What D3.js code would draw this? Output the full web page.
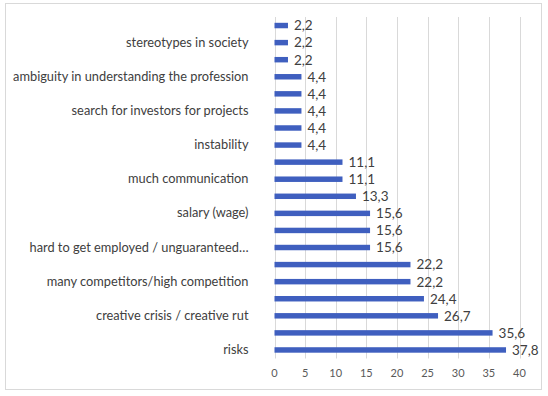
<!DOCTYPE html>
<html>
<head>
<meta charset="utf-8">
<script src="https://cdn.jsdelivr.net/npm/d3@7"></script>
<style>
  html, body { margin: 0; padding: 0; background: #fff; }
  svg { display: block; font-family: Lato, "Open Sans", sans-serif; }
</style>
</head>
<body>
<div id="chart"></div>
<script>
// categories, top to bottom (Excel only shows every other label)
const categories = [
  "", "stereotypes in society",
  "", "ambiguity in understanding the profession",
  "", "search for investors for projects",
  "", "instability",
  "", "much communication",
  "", "salary (wage)",
  "", "hard to get employed / unguaranteed\u2026",
  "", "many competitors/high competition",
  "", "creative crisis / creative rut",
  "", "risks"
];
const values = [2.2, 2.2, 2.2, 4.4, 4.4, 4.4, 4.4, 4.4, 11.1, 11.1,
                13.3, 15.6, 15.6, 15.6, 22.2, 22.2, 24.4, 26.7, 35.6, 37.8];
const xTicks = [0, 5, 10, 15, 20, 25, 30, 35, 40];

const W = 548, H = 396;
const svg = d3.select("#chart").append("svg")
  .attr("width", W).attr("height", H);

// chart border
svg.append("rect")
  .attr("x", 5.5).attr("y", 3.5)
  .attr("width", 536).attr("height", 386)
  .attr("fill", "#fff").attr("stroke", "#d9d9d9");

const x = d3.scaleLinear().domain([0, 40]).range([274.5, 519.5]);
const y = d3.scaleBand()
  .domain(d3.range(values.length))
  .range([17, 358.5])
  .paddingInner(0.68).paddingOuter(0.34);

// gridlines
svg.append("g").selectAll("line")
  .data(xTicks)
  .enter().append("line")
  .attr("x1", d => Math.round(x(d)) + 0.5)
  .attr("x2", d => Math.round(x(d)) + 0.5)
  .attr("y1", 17).attr("y2", 358.5)
  .attr("stroke", "#d9d9d9");

// x tick labels
svg.append("g").selectAll("text")
  .data(xTicks)
  .enter().append("text")
  .attr("x", d => x(d))
  .attr("y", 377)
  .attr("text-anchor", "middle")
  .attr("font-size", 11)
  .attr("fill", "#595959")
  .text(d => d);

// category axis (labels only)
const yAxis = svg.append("g")
  .attr("transform", `translate(${x(0)},0)`)
  .call(d3.axisLeft(y).tickSize(0).tickPadding(26).tickFormat(i => categories[i]));
yAxis.select(".domain").remove();
yAxis.selectAll("text")
  .attr("font-family", "Lato, 'Open Sans', sans-serif")
  .attr("font-size", 12.8)
  .attr("fill", "#404040");

// bars
svg.append("g").selectAll("rect")
  .data(values)
  .enter().append("rect")
  .attr("x", x(0))
  .attr("y", (d, i) => y(i))
  .attr("width", d => x(d) - x(0))
  .attr("height", y.bandwidth())
  .attr("fill", "#3f5fbf");

// value labels
const fmt = d => d3.format(".1f")(d).replace(".", ",");
svg.append("g").selectAll("text")
  .data(values)
  .enter().append("text")
  .attr("x", d => x(d) + 6)
  .attr("y", (d, i) => y(i) + y.bandwidth() / 2)
  .attr("dy", "0.36em")
  .attr("font-size", 13.5)
  .attr("fill", "#404040")
  .text(fmt);
</script>
</body>
</html>
